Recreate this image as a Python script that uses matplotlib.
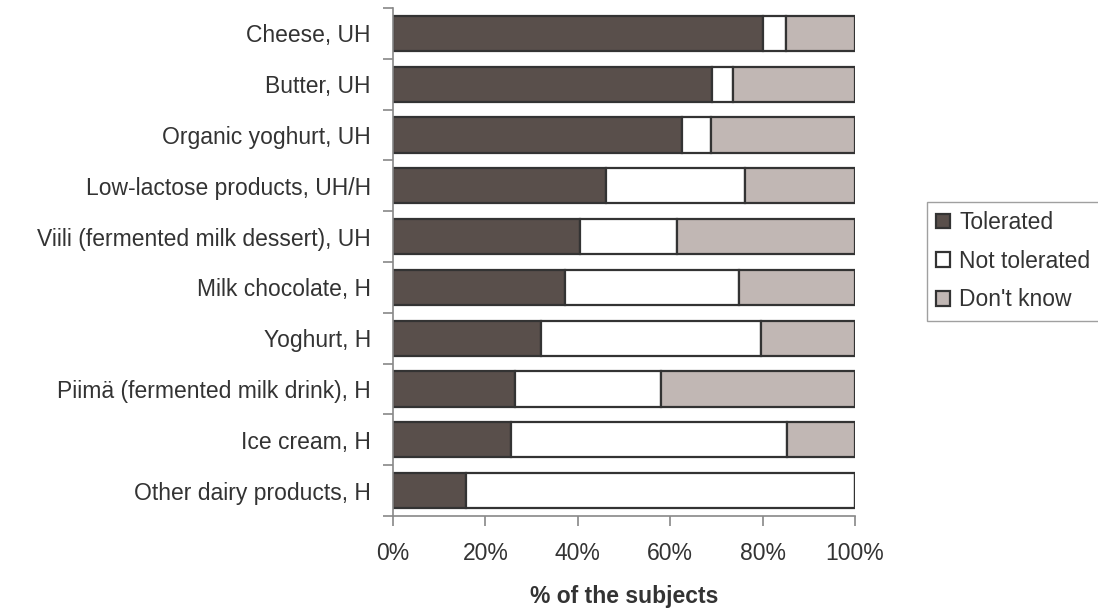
import matplotlib
matplotlib.use("Agg")
import matplotlib.pyplot as plt
import numpy as np

plt.rcParams['font.family'] = ['Liberation Sans', 'DejaVu Sans']

categories = [
    "Cheese, UH",
    "Butter, UH",
    "Organic yoghurt, UH",
    "Low-lactose products, UH/H",
    "Viili (fermented milk dessert), UH",
    "Milk chocolate, H",
    "Yoghurt, H",
    "Piimä (fermented milk drink), H",
    "Ice cream, H",
    "Other dairy products, H",
]
tolerated = [80, 69, 62.5, 46, 40.4, 37.3, 32, 26.5, 25.6, 15.7]
not_tolerated = [5, 4.7, 6.4, 30.2, 21, 37.6, 47.7, 31.5, 59.7, 84.3]
dont_know = [15, 26.3, 31.1, 23.8, 38.6, 25.1, 20.3, 42, 14.7, 0]

series = [
    ("Tolerated", tolerated, "#594f4b"),
    ("Not tolerated", not_tolerated, "#ffffff"),
    ("Don't know", dont_know, "#c1b7b4"),
]

FS = 16.5
TXT = "#333333"

fig = plt.figure(figsize=(10.98, 6.10), dpi=100)
ax = fig.add_axes([393 / 1098, 1 - 516 / 610, 462 / 1098, 508 / 610])

y = np.arange(len(categories))
left = np.zeros(len(categories))
for name, vals, color in series:
    vals = np.array(vals, dtype=float)
    ax.barh(y, vals, left=left, height=0.69, color=color,
            edgecolor="#333333", linewidth=1.6, label=name)
    left += vals

ax.set_xlim(0, 100)
ax.set_ylim(len(categories) - 0.5, -0.5)

ax.set_xticks(np.arange(0, 101, 20))
ax.set_xticklabels([f"{v}%" for v in range(0, 101, 20)])
ax.set_yticks(y)
ax.set_yticklabels(categories)
ax.set_yticks(np.arange(-0.5, len(categories), 1), minor=True)

ax.tick_params(axis="y", which="major", length=0, pad=16, labelsize=FS, labelcolor=TXT)
ax.tick_params(axis="y", which="minor", length=7, width=1.2, color="#888888")
ax.tick_params(axis="x", which="major", length=7, width=1.2, color="#888888",
               labelsize=FS, labelcolor=TXT, pad=12)

for side in ("top", "right"):
    ax.spines[side].set_visible(False)
for side in ("left", "bottom"):
    ax.spines[side].set_color("#888888")
    ax.spines[side].set_linewidth(1.2)

ax.set_xlabel("% of the subjects", fontsize=FS, fontweight="bold",
              color=TXT, labelpad=14)

leg = fig.legend(loc="upper left", bbox_to_anchor=(927 / 1098, 1 - 202 / 610),
                 frameon=True, fancybox=False, fontsize=FS,
                 handlelength=0.6, handleheight=0.6, handletextpad=0.4,
                 labelspacing=0.68, borderpad=0.4, borderaxespad=0)
leg.get_frame().set_edgecolor("#888888")
leg.get_frame().set_linewidth(1.0)
for t in leg.get_texts():
    t.set_color(TXT)

fig.savefig("out.png", dpi=100)
